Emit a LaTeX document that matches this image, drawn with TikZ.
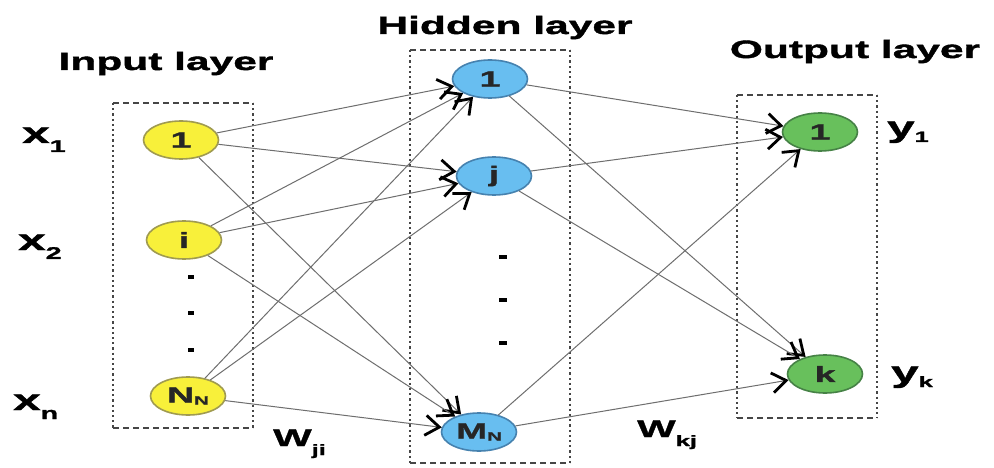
\documentclass[tikz,border=0pt]{standalone}
\usepackage{fontspec}
\setmainfont{Liberation Sans}[FakeStretch=1.7,BoldFeatures={FakeBold=1.5}]
\usetikzlibrary{shapes.geometric,arrows.meta}
\definecolor{inyellow}{RGB}{248,240,58}
\definecolor{inborder}{RGB}{160,155,80}
\definecolor{hidblue}{RGB}{104,190,240}
\definecolor{hidborder}{RGB}{70,130,175}
\definecolor{outgreen}{RGB}{104,192,92}
\definecolor{outborder}{RGB}{70,130,70}
\definecolor{linegray}{RGB}{110,110,110}
\definecolor{boxgray}{RGB}{70,70,70}
\newcommand{\subtxt}[3]{\raisebox{-#2}{\fontsize{#1}{#1}\selectfont #3}}
\begin{document}
\begin{tikzpicture}[x=1pt,y=-1pt,
  neuron/.style={ellipse, draw, line width=1.6pt, minimum width=75pt, minimum height=38pt, inner sep=0pt, text=black!85, font=\bfseries\fontsize{22}{22}\selectfont},
  inp/.style={neuron, fill=inyellow, draw=inborder},
  hid/.style={neuron, fill=hidblue, draw=hidborder},
  outn/.style={neuron, fill=outgreen, draw=outborder},
  conn/.style={draw=linegray, line width=1pt, -{Straight Barb[length=14pt,width=20pt,line width=2.8pt,color=black]}},
  title/.style={anchor=base, inner sep=0pt, font=\bfseries\fontsize{25}{25}\selectfont},
  lab/.style={anchor=base west, inner sep=0pt, font=\bfseries\fontsize{29}{29}\selectfont},
  wlab/.style={anchor=base west, inner sep=0pt, font=\bfseries\fontsize{24}{24}\selectfont},
  vdot/.style={fill=black, inner sep=0pt, minimum width=#1, minimum height=4.5pt},
  hedge/.style={draw=boxgray, line width=1.7pt, dash pattern=on 6pt off 4pt},
  vedge/.style={draw=boxgray, line width=2pt, dash pattern=on 2.2pt off 3pt}
]
\useasboundingbox (0,0) rectangle (994,468);
\fill[white] (0,0) rectangle (994,468);

% layer boxes
\draw[hedge] (113,103) -- (253,103) (113,428) -- (253,428);
\draw[vedge] (113,103) -- (113,428) (253,103) -- (253,428);
\draw[hedge] (410,50) -- (570,50) (410,463) -- (570,463);
\draw[vedge] (410,50) -- (410,463) (570,50) -- (570,463);
\draw[hedge] (737,95) -- (877,95) (737,418) -- (877,418);
\draw[vedge] (737,95) -- (737,418) (877,95) -- (877,418);

% titles
\node[title] (tin) at (166,70) {Input layer};
\node[title] (thid) at (505,34) {Hidden layer};
\node[title] (tout) at (855,58) {Output layer};

% neurons
\node[inp] (in1) at (181,140) {1};
\node[inp] (ini) at (184,240) {i};
\node[inp] (inN) at (188,396) {N\subtxt{12}{2pt}{N}};
\node[hid] (h1) at (490,79) {1};
\node[hid] (hj) at (494,176) {j};
\node[hid] (hM) at (479,432) {M\subtxt{12}{2pt}{N}};
\node[outn] (o1) at (820,132) {1};
\node[outn] (ok) at (825,374) {k};

% dots
\node[vdot=6pt] (d1) at (191,277) {};
\node[vdot=6pt] (d2) at (191,313) {};
\node[vdot=6pt] (d3) at (191,350) {};
\node[vdot=8pt] (e1) at (503,257) {};
\node[vdot=8pt] (e2) at (503,300) {};
\node[vdot=8pt] (e3) at (503,343) {};

% connections input -> hidden
\foreach \a in {in1,ini,inN}{
  \foreach \b in {h1,hj,hM}{
    \draw[conn] (\a) -- (\b);
  }
}
% connections hidden -> output
\foreach \a in {h1,hj,hM}{
  \foreach \b in {o1,ok}{
    \draw[conn] (\a) -- (\b);
  }
}

% side labels
\node[lab] (x1) at (22,143) {x\subtxt{17}{9pt}{1}};
\node[lab] (x2) at (18,250) {x\subtxt{17}{9pt}{2}};
\node[lab] (xn) at (13,410) {x\subtxt{17}{9pt}{n}};
\node[lab] (y1) at (887,137) {y\subtxt{15}{5pt}{1}};
\node[lab] (yk) at (891,382) {y\subtxt{15}{5pt}{k}};
\node[wlab] (wji) at (273,446) {W\subtxt{15}{9pt}{ji}};
\node[wlab] (wkj) at (637,437) {W\subtxt{15}{9pt}{kj}};
\end{tikzpicture}
\end{document}
